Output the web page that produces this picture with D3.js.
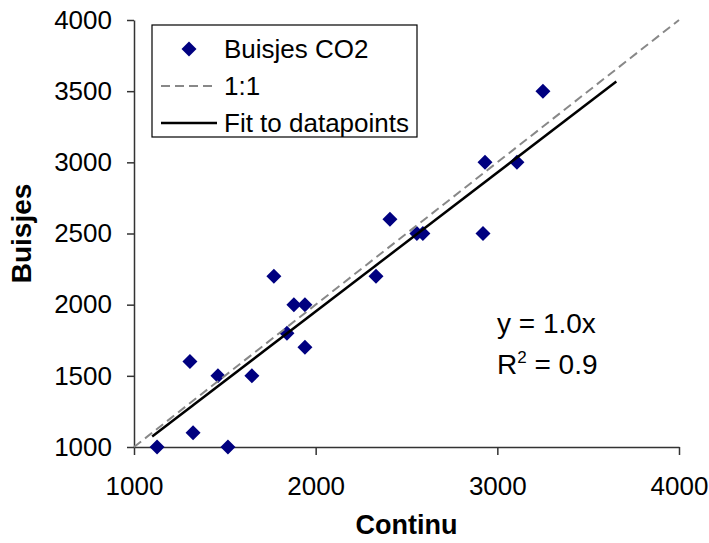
<!DOCTYPE html>
<head>
  <meta charset="utf-8">
  <script src="https://d3js.org/d3.v7.min.js"></script>
  <style>
    body { margin:0; background:#fff; }
    text { font-family: "Liberation Sans", Arial, sans-serif; fill:#000; }
  </style>
</head>
<body>
  <div id=figure></div>
  <script>
    // metingen: continu vs buisjes
    var continu = [1127, 1308, 1325, 1462, 1517, 1649, 1770, 1842, 1880, 1941, 1941,
                   2332, 2409, 2557, 2590, 2921, 2932, 3108, 3251];
    var buisjes = [1000, 1600, 1100, 1500, 1000, 1500, 2200, 1800, 2000, 2000, 1700,
                   2200, 2600, 2500, 2500, 2500, 3000, 3000, 3500];
    var ticks = [1000, 1500, 2000, 2500, 3000, 3500, 4000];
    var xTicks = [1000, 2000, 3000, 4000];
    var oneToOne = [1000, 4000];
    var fitSlope = 0.976;
    var fitRange = [1100, 3655];
    var legendLabels = ["Buisjes CO2", "1:1", "Fit to datapoints"];

    var data = continu.map(function(d, i) { return {x: d, y: buisjes[i]}; });

    var width = 709, height = 543;
    var svg = d3.select("#figure").append("svg")
      .attr("width", width)
      .attr("height", height);

    var x = d3.scaleLinear().domain([1000, 4000]).range([134, 679]);
    var y = d3.scaleLinear().domain([1000, 4000]).range([447, 20]);

    var xAxis = d3.axisBottom(x).tickValues(xTicks).tickFormat(d3.format("d"))
      .tickSize(8).tickSizeOuter(0).tickPadding(22);
    var yAxis = d3.axisLeft(y).tickValues(ticks).tickFormat(d3.format("d"))
      .tickSize(7).tickSizeOuter(0).tickPadding(15);

    var gx = svg.append("g")
      .attr("transform", "translate(0," + y(1000) + ")")
      .call(xAxis);
    var gy = svg.append("g")
      .attr("transform", "translate(" + x(1000) + ",0)")
      .call(yAxis);

    [gx, gy].forEach(function(g) {
      g.selectAll("path, line").attr("stroke", "#333").attr("stroke-width", 1.5);
      g.selectAll("text").attr("font-size", 26).attr("fill", "#000")
        .attr("font-family", "'Liberation Sans', Arial, sans-serif");
    });

    svg.append("text")
      .attr("x", (x(1000) + x(4000)) / 2)
      .attr("y", 534)
      .attr("text-anchor", "middle")
      .attr("font-size", 27)
      .attr("font-weight", "bold")
      .text("Continu");

    svg.append("text")
      .attr("transform", "translate(31," + y(2500) + ") rotate(-90)")
      .attr("text-anchor", "middle")
      .attr("font-size", 28)
      .attr("font-weight", "bold")
      .text("Buisjes");

    var diamond = "M0,-7.5L7.5,0L0,7.5L-7.5,0Z";

    svg.selectAll(".dot").data(data).enter().append("path")
      .attr("class", "dot")
      .attr("d", diamond)
      .attr("transform", function(d) { return "translate(" + x(d.x) + "," + y(d.y) + ")"; })
      .attr("fill", "#000080");

    var line = d3.line()
      .x(function(d) { return x(d[0]); })
      .y(function(d) { return y(d[1]); });

    svg.append("path")
      .datum(oneToOne.map(function(d) { return [d, d]; }))
      .attr("d", line)
      .attr("fill", "none")
      .attr("stroke", "#888")
      .attr("stroke-width", 2)
      .attr("stroke-dasharray", "9,5");

    svg.append("path")
      .datum(fitRange.map(function(d) { return [d, fitSlope * d]; }))
      .attr("d", line)
      .attr("fill", "none")
      .attr("stroke", "#000")
      .attr("stroke-width", 2.5);

    // vergelijking
    svg.append("text")
      .attr("x", 497).attr("y", 333)
      .attr("font-size", 28)
      .text("y = 1.0x");
    var r2 = svg.append("text")
      .attr("x", 497).attr("y", 374)
      .attr("font-size", 28);
    r2.append("tspan").text("R");
    r2.append("tspan").attr("font-size", 17).attr("dy", -11).text("2");
    r2.append("tspan").attr("dy", 11).text(" = 0.9");

    // legenda
    svg.append("rect")
      .attr("x", 152).attr("y", 25)
      .attr("width", 265).attr("height", 112)
      .attr("fill", "#fff")
      .attr("stroke", "#000")
      .attr("stroke-width", 1.2);

    var legend = svg.selectAll(".legend").data(legendLabels).enter().append("g")
      .attr("class", "legend")
      .attr("transform", function(d, i) { return "translate(0," + (49 + i * 37) + ")"; });

    legend.append("text")
      .attr("x", 224)
      .attr("dy", "0.36em")
      .attr("font-size", 26)
      .text(function(d) { return d; });

    legend.filter(function(d, i) { return i == 0; }).append("path")
      .attr("d", diamond)
      .attr("transform", "translate(189,0)")
      .attr("fill", "#000080");
    legend.filter(function(d, i) { return i == 1; }).append("line")
      .attr("x1", 161).attr("x2", 217)
      .attr("stroke", "#888").attr("stroke-width", 2)
      .attr("stroke-dasharray", "9,5");
    legend.filter(function(d, i) { return i == 2; }).append("line")
      .attr("x1", 161).attr("x2", 217)
      .attr("stroke", "#000").attr("stroke-width", 2.5);
  </script>
</body>
